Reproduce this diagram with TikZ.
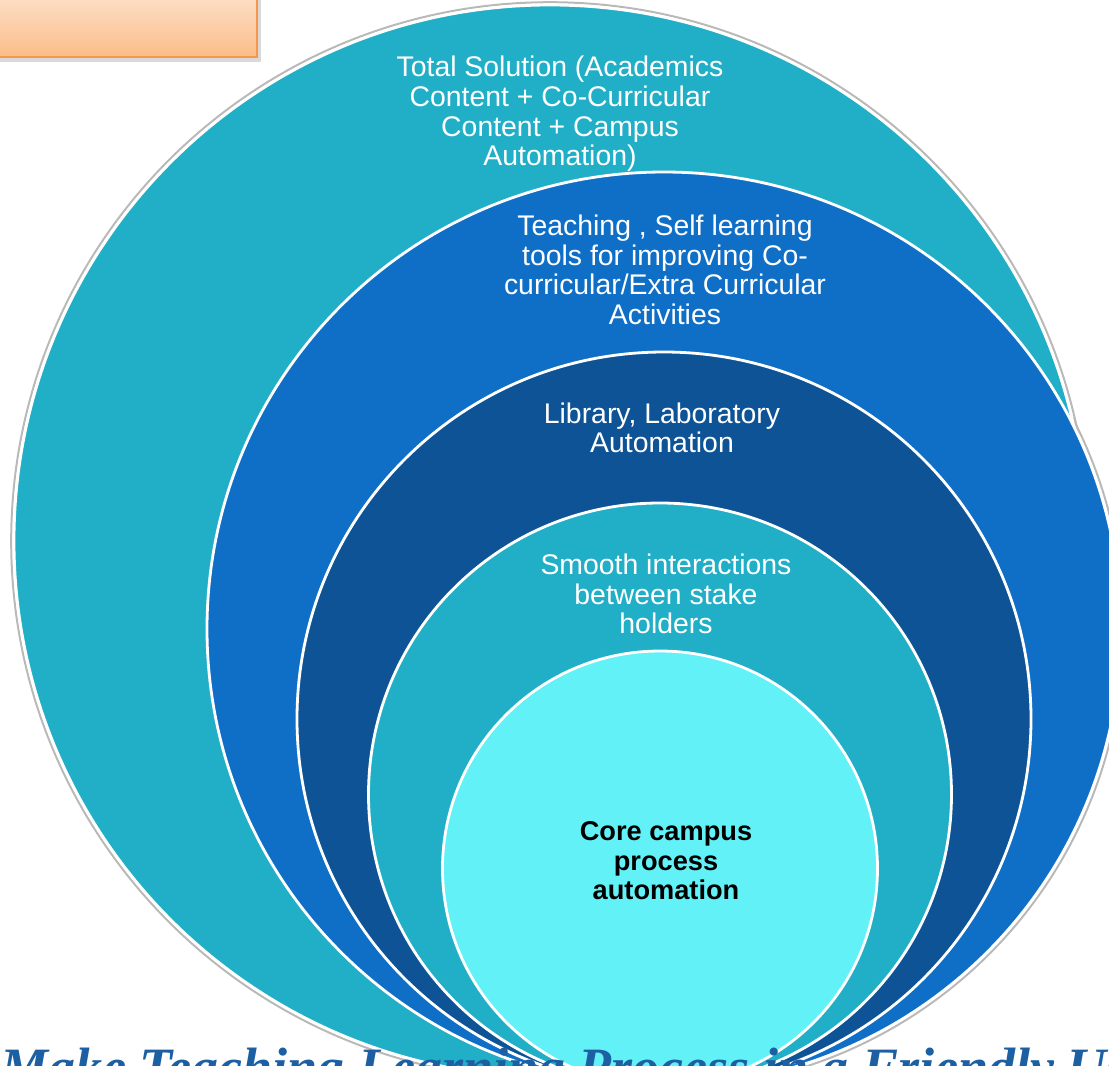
\documentclass[tikz,border=0pt]{standalone}
\usepackage{fontspec}
\setmainfont{Liberation Sans}
\newfontfamily\slogfont{Liberation Serif}
\definecolor{ringteal}{HTML}{21AFC7}
\definecolor{ringblue}{HTML}{0F6FC6}
\definecolor{ringnavy}{HTML}{0D5395}
\definecolor{ringcyan}{HTML}{62F1F7}
\definecolor{boxtop}{HTML}{FDE2CC}
\definecolor{boxbot}{HTML}{FBBD89}
\definecolor{boxline}{HTML}{F79646}
\definecolor{slogcol}{HTML}{1C5FA3}
\begin{document}
\begin{tikzpicture}[x=0.5pt,y=-0.5pt,
	ring/.style={draw=white,line width=1.4pt},
	ringtext/.style={text=white,align=center,font=\fontsize{14.2}{14.8}\selectfont}]
	\useasboundingbox (0,0) rectangle (1109,1066);
	\clip (0,0) rectangle (1109,1066);
	\fill[white] (0,0) rectangle (1109,1066);
	% Schatten der beiden grossen Kreise
	\draw[gray!55,line width=1pt] (664,629) circle[radius=229.9pt];
	\draw[gray!55,line width=1pt] (550,541) circle[radius=269.4pt];
	% Kreise von aussen nach innen
	\draw[ring,fill=ringteal] (550,541) circle[radius=268pt];
	\draw[ring,fill=ringblue] (664,629) circle[radius=228.5pt];
	\draw[ring,fill=ringnavy] (664,719) circle[radius=183.5pt];
	\draw[ring,fill=ringteal] (660,794.5) circle[radius=145.75pt];
	\draw[ring,fill=ringcyan] (660,868.5) circle[radius=108.75pt];
	% Beschriftungen
	\node[ringtext] (total) at (560,114) {Total Solution (Academics\\Content + Co-Curricular\\Content + Campus\\Automation)};
	\node[ringtext] (teach) at (665,270) {Teaching , Self learning\\tools for improving Co-\\curricular/Extra Curricular\\Activities};
	\node[ringtext] (lib) at (662,428) {Library, Laboratory\\Automation};
	\node[ringtext] (smooth) at (666,594) {Smooth interactions\\between stake\\holders};
	\node[ringtext,text=black,font=\bfseries\fontsize{13.6}{14.8}\selectfont] (core) at (666,861) {Core campus\\process\\automation};
	% Kasten oben links
	\fill[gray!30] (-10,-10) rectangle (261,62);
	\draw[boxline,line width=0.8pt,top color=boxtop,bottom color=boxbot] (-10,-10) rectangle (257,57);
	% Leitsatz unten
	\node[anchor=base west,inner sep=0pt,text=slogcol,font=\slogfont\bfseries\itshape\fontsize{27}{30}\selectfont] (slogan) at (0,1085) {Make Teaching Learning Process in a Friendly Use};
\end{tikzpicture}
\end{document}
